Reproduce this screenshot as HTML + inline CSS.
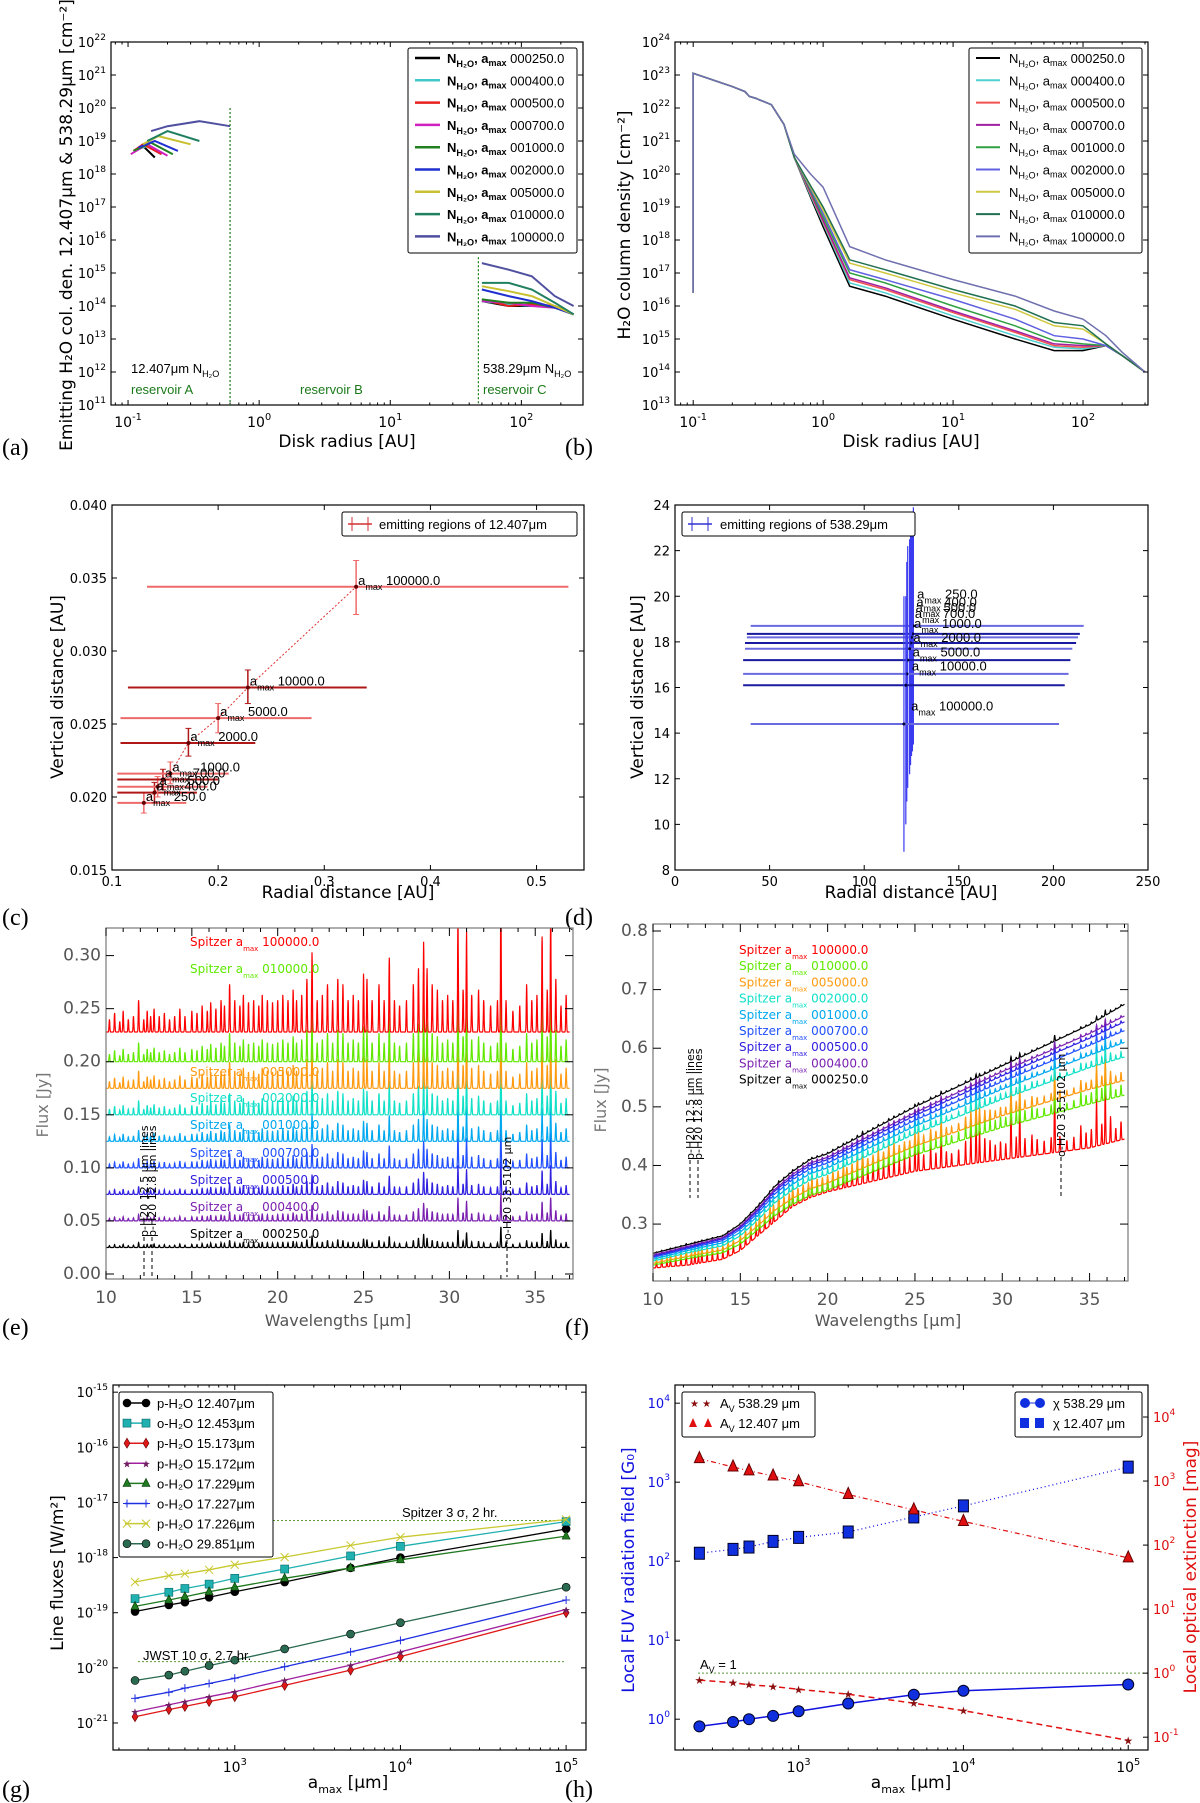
<!DOCTYPE html>
<html><head><meta charset="utf-8"><style>
html,body{margin:0;padding:0;background:#fff}
svg{display:block}
text{font-family:"DejaVu Sans","Liberation Sans",sans-serif}
.t{font-family:"Liberation Sans","DejaVu Sans",sans-serif;font-size:13px}
.pl{font-family:"Liberation Serif",serif;font-size:24px}
</style></head><body>
<svg id="fig" width="1200" height="1803" viewBox="0 0 1200 1803" xmlns="http://www.w3.org/2000/svg"></svg>
<script>
// ---------- DATA ----------
const amaxLabels=['000250.0','000400.0','000500.0','000700.0','001000.0','002000.0','005000.0','010000.0','100000.0'];
const aInnerR=[[0.11,0.13,0.16],[0.11,0.14,0.18],[0.11,0.13,0.18],[0.105,0.14,0.2],[0.11,0.15,0.22],[0.12,0.16,0.24],[0.13,0.17,0.3],[0.14,0.2,0.35],[0.15,0.2,0.35,0.6]];
const aInnerN=[[18.7,18.85,18.5],[18.7,18.85,18.6],[18.7,18.9,18.6],[18.6,18.9,18.55],[18.7,18.95,18.6],[18.8,19.0,18.7],[18.9,19.15,18.9],[19.0,19.3,19.0],[19.3,19.45,19.6,19.45]];
const aOuterR=[50,80,120,180,250];
const aOuterN=[[14.15,14.0,14.0,14.0,13.75],[14.15,14.05,14.0,14.0,13.75],[14.2,14.0,14.05,14.0,13.75],[14.15,14.1,14.0,13.95,13.75],[14.2,14.1,14.1,13.95,13.75],[14.5,14.3,14.15,13.95,13.75],[14.6,14.45,14.3,14.0,13.75],[14.7,14.7,14.5,14.1,13.75],[15.3,15.1,14.9,14.3,14.0]];
const bPreR=[0.1,0.1,0.2,0.25,0.27,0.3,0.4,0.5];
const bPreN=[16.4,23.05,22.65,22.5,22.35,22.3,22.1,21.5];
const bR=[0.6,0.8,1.0,1.6,3,10,30,60,100,150,200,300];
const bN=[[20.5,19.3,18.4,16.6,16.3,15.6,15.0,14.65,14.65,14.8,14.5,14.0],
[20.5,19.35,18.5,16.7,16.4,15.7,15.1,14.75,14.7,14.8,14.5,14.0],
[20.5,19.4,18.55,16.8,16.5,15.8,15.2,14.8,14.75,14.8,14.5,14.0],
[20.5,19.45,18.6,16.85,16.55,15.85,15.25,14.85,14.8,14.8,14.5,14.0],
[20.5,19.5,18.7,17.0,16.7,16.0,15.4,14.95,14.85,14.8,14.5,14.0],
[20.5,19.55,18.8,17.1,16.8,16.2,15.6,15.1,15.0,14.8,14.5,14.0],
[20.5,19.6,18.9,17.3,17.0,16.4,15.9,15.4,15.3,14.85,14.5,14.0],
[20.5,19.65,19.0,17.4,17.1,16.5,16.0,15.5,15.4,14.85,14.5,14.0],
[20.6,20.0,19.6,17.8,17.4,16.8,16.3,15.85,15.6,15.1,14.6,14.0]];
const cLabels=['250.0','400.0','500.0','700.0','1000.0','2000.0','5000.0','10000.0','100000.0'];
const cX=[0.13,0.14,0.143,0.148,0.155,0.172,0.2,0.228,0.33];
const cY=[0.0196,0.0203,0.0207,0.0212,0.0216,0.0237,0.0254,0.0275,0.0344];
const cXlo=[0.105,0.105,0.105,0.105,0.105,0.108,0.108,0.115,0.133];
const cXhi=[0.17,0.18,0.19,0.2,0.21,0.235,0.288,0.34,0.53];
const cYlo=[0.0189,0.0196,0.02,0.0205,0.0209,0.0228,0.0244,0.0264,0.0325];
const cYhi=[0.0203,0.021,0.0214,0.0219,0.0224,0.0247,0.0264,0.0287,0.0362];
const dLabels=['250.0','400.0','500.0','700.0','1000.0','2000.0','5000.0','10000.0','100000.0'];
const dX=[126,125.5,125,124.5,124,123,122.5,122,121];
const dY=[18.7,18.35,18.2,17.95,17.7,17.2,16.6,16.1,14.4];
const dXlo=[40,38,38,37,37,36,36,36,40];
const dXhi=[216,214,213,212,210,209,208,206,203];
const dYlo=[13.5,13.2,13.0,12.6,12.2,11.6,11.0,10.0,8.8];
const dYhi=[23.9,23.5,23.0,22.8,22.5,22.2,21.5,20.0,20.0];
const dLabelY=[19.9,19.55,19.3,19.05,18.6,18.0,17.35,16.75,15.0];
const lineList=[[10.2,.012],[10.5,.018],[10.8,.01],[11.0,.02],[11.3,.012],[11.6,.015],[11.9,.03],[12.2,.012],[12.4,.02],[12.6,.015],[12.8,.022],[13.1,.015],[13.4,.018],[13.7,.012],[14.0,.015],[14.3,.022],[14.6,.015],[15.0,.02],[15.3,.018],[15.6,.025],[15.9,.02],[16.1,.028],[16.4,.022],[16.7,.03],[16.9,.025],[17.2,.045],[17.5,.03],[17.8,.025],[18.0,.035],[18.3,.028],[18.6,.03],[18.9,.025],[19.1,.035],[19.4,.03],[19.7,.028],[20.0,.03],[20.3,.035],[20.6,.03],[20.9,.04],[21.1,.03],[21.4,.035],[21.7,.05],[22.0,.075],[22.3,.03],[22.6,.035],[22.9,.045],[23.2,.03],[23.5,.05],[23.8,.045],[24.1,.03],[24.4,.035],[24.7,.03],[25.0,.055],[25.2,.05],[25.5,.03],[25.9,.045],[26.2,.03],[26.5,.07],[26.8,.03],[27.1,.025],[27.5,.03],[27.9,.045],[28.2,.06],[28.5,.085],[28.7,.06],[29.0,.045],[29.3,.04],[29.6,.03],[29.9,.035],[30.2,.03],[30.5,.11],[30.8,.04],[31.0,.095],[31.3,.035],[31.7,.04],[32.0,.03],[32.4,.025],[32.8,.03],[33.0,.13],[33.3,.03],[33.7,.02],[34.1,.025],[34.5,.045],[34.8,.03],[35.1,.035],[35.4,.09],[35.7,.04],[35.9,.11],[36.2,.05],[36.5,.025],[36.8,.035]];
const eOffset=[0.025,0.05,0.075,0.1,0.125,0.15,0.175,0.2,0.228];
const eLineScale=[0.15,0.2,0.25,0.3,0.35,0.45,0.55,0.6,1.0];
const fContWl=[10,12,14,15,16,17,18,19,20,25,30,35,37];
const fCont=[[0.25,0.265,0.28,0.3,0.33,0.365,0.39,0.41,0.42,0.5,0.57,0.64,0.675],
[0.247,0.262,0.277,0.296,0.326,0.36,0.385,0.404,0.414,0.49,0.56,0.625,0.655],
[0.245,0.26,0.275,0.294,0.323,0.357,0.381,0.4,0.41,0.485,0.553,0.617,0.645],
[0.243,0.258,0.272,0.291,0.319,0.352,0.376,0.394,0.404,0.477,0.543,0.605,0.63],
[0.24,0.255,0.268,0.286,0.314,0.345,0.368,0.386,0.396,0.467,0.53,0.588,0.61],
[0.237,0.251,0.263,0.28,0.307,0.337,0.358,0.375,0.385,0.454,0.513,0.567,0.585],
[0.233,0.245,0.256,0.272,0.297,0.324,0.344,0.36,0.37,0.433,0.485,0.53,0.545],
[0.23,0.241,0.251,0.266,0.29,0.315,0.334,0.349,0.358,0.418,0.465,0.505,0.52],
[0.225,0.23,0.24,0.255,0.28,0.305,0.33,0.345,0.355,0.39,0.41,0.43,0.445]];
const fLineScale=[0.08,0.1,0.12,0.15,0.2,0.3,0.45,0.55,0.9];
const specColors=['#000000','#7a20b0','#3020e0','#2050ff','#00a8f0','#10e0c8','#ff9a10','#60e800','#ff0000'];
const gX=[250,400,500,700,1000,2000,5000,10000,100000];
const gNames=['p-H2O 12.407','o-H2O 12.453','p-H2O 15.173','p-H2O 15.172','o-H2O 17.229','o-H2O 17.227','p-H2O 17.226','o-H2O 29.851'];
const gFlux=[
[1.05e-19,1.38e-19,1.55e-19,1.9e-19,2.4e-19,3.6e-19,6.5e-19,1.0e-18,3.3e-18],
[1.8e-19,2.35e-19,2.75e-19,3.3e-19,4.2e-19,6.2e-19,1.07e-18,1.6e-18,4.5e-18],
[1.3e-21,1.75e-21,2.0e-21,2.45e-21,3.0e-21,4.8e-21,9.1e-21,1.6e-20,1.0e-19],
[1.6e-21,2.15e-21,2.45e-21,3.0e-21,3.7e-21,6.0e-21,1.12e-20,1.95e-20,1.15e-19],
[1.3e-19,1.7e-19,1.95e-19,2.4e-19,2.9e-19,4.2e-19,6.5e-19,9.1e-19,2.45e-18],
[2.8e-21,3.6e-21,4.3e-21,5.2e-21,6.5e-21,1.05e-20,1.95e-20,3.15e-20,1.7e-19],
[3.6e-19,4.7e-19,5.1e-19,6.0e-19,7.4e-19,1.02e-18,1.66e-18,2.34e-18,4.9e-18],
[5.9e-21,7.4e-21,8.7e-21,1.1e-20,1.38e-20,2.2e-20,4.1e-20,6.6e-20,2.9e-19]];
const gSpitzer=4.7e-18, gJWST=1.3e-20;
const hX=[250,400,500,700,1000,2000,5000,10000,100000];
const hChi538=[0.81,0.92,1.0,1.1,1.26,1.58,2.04,2.29,2.75];
const hChi12=[126,141,151,178,200,234,363,501,1550];
const hAv12=[2240,1660,1445,1200,977,617,355,234,63];
const hAv538=[0.78,0.71,0.66,0.62,0.56,0.47,0.34,0.26,0.089];
const hAvOne=1;

// ---------- HELPERS ----------
const NS='http://www.w3.org/2000/svg';
const svg=document.getElementById('fig');
function mk(tag,attrs,name,parent){
  const el=document.createElementNS(NS,tag);
  for(const k in attrs) el.setAttribute(k,attrs[k]);
  
  
  (parent||svg).appendChild(el);return el;}
function txt(x,y,s,attrs,name,parent){const t=mk('text',Object.assign({x:x,y:y},attrs||{}),name,parent);t.textContent=s;return t;}
function sup(x,y,base,ex,attrs,name,parent){const t=mk('text',Object.assign({x:x,y:y},attrs||{}),name,parent);
  const a=document.createElementNS(NS,'tspan');a.textContent=base;t.appendChild(a);
  const b=document.createElementNS(NS,'tspan');b.setAttribute('dy','-7');b.setAttribute('font-size','0.7em');b.textContent=ex;t.appendChild(b);return t;}
function sub(t,base,s){const a=document.createElementNS(NS,'tspan');a.textContent=base;t.appendChild(a);
  const b=document.createElementNS(NS,'tspan');b.setAttribute('dy','4');b.setAttribute('font-size','0.7em');b.textContent=s;t.appendChild(b);
  const c=document.createElementNS(NS,'tspan');c.setAttribute('dy','-4');c.textContent='';t.appendChild(c);return c;}
function axes(c){
  const g=mk('g',{},c.name);
  const lx=v=>c.xlog?Math.log10(v):v, ly=v=>c.ylog?Math.log10(v):v;
  const X=v=>c.L+(lx(v)-c.xmin)/(c.xmax-c.xmin)*(c.R-c.L);
  const Y=v=>c.B-(ly(v)-c.ymin)/(c.ymax-c.ymin)*(c.B-c.T);
  const clip=mk('clipPath',{id:c.name+'-clip'},c.name+'-clip',g);
  mk('rect',{x:c.L,y:c.T,width:c.R-c.L,height:c.B-c.T},'clip-rect',clip);
  const plot=mk('g',{'clip-path':'url(#'+c.name+'-clip)'},c.name+'-plot',g);
  mk('rect',{x:c.L,y:c.T,width:c.R-c.L,height:c.B-c.T,fill:'none',stroke:c.frame||'#000','stroke-width':1.2},c.name+'-frame',g);
  return {X,Y,g,plot,c};
}
function tickLine(ax,x1,y1,x2,y2,name){mk('line',{x1,y1,x2,y2,stroke:'#000','stroke-width':1},name,ax.g);}
function xTicks(ax,vals,opts){const c=ax.c;opts=opts||{};const len=opts.len||5;
  vals.forEach((v,i)=>{const x=ax.X(v);tickLine(ax,x,c.B,x,c.B-len,'x-tick');tickLine(ax,x,c.T,x,c.T+len,'x-tick-top');
    if(opts.labels){ if(opts.log) sup(x,c.B+(opts.dy||20),'10',opts.labels[i],{'text-anchor':'middle','font-size':opts.fs||14,'font-family':'Liberation Sans,sans-serif',fill:opts.fill||'#000'},'x-tick-label',ax.g);
      else txt(x,c.B+(opts.dy||18),opts.labels[i],{'text-anchor':'middle','font-size':opts.fs||14,fill:opts.fill||'#000','font-family':'Liberation Sans,sans-serif'},'x-tick-label',ax.g);}});}
function yTicks(ax,vals,opts){const c=ax.c;opts=opts||{};const len=opts.len||5;
  vals.forEach((v,i)=>{const y=ax.Y(v);if(!opts.rightOnly)tickLine(ax,c.L,y,c.L+len,y,'y-tick');if(!opts.leftOnly)tickLine(ax,c.R,y,c.R-len,y,'y-tick-right');
    if(opts.labels){const xx=opts.right?c.R+5:c.L-5;const an=opts.right?'start':'end';
      if(opts.log) sup(xx,y+5,'10',opts.labels[i],{'text-anchor':an,'font-size':opts.fs||14,fill:opts.fill||'#000','font-family':'Liberation Sans,sans-serif'},'y-tick-label',ax.g);
      else txt(xx,y+5,opts.labels[i],{'text-anchor':an,'font-size':opts.fs||14,fill:opts.fill||'#000','font-family':'Liberation Sans,sans-serif'},'y-tick-label',ax.g);}});}
function minorLog(from,to){const r=[];for(let e=from;e<to;e++)for(let k=2;k<10;k++)r.push(k*Math.pow(10,e));return r;}
function poly(ax,xs,ys,attrs,name){const pts=xs.map((x,i)=>ax.X(x).toFixed(1)+','+ax.Y(ys[i]).toFixed(1)).join(' ');
  return mk('polyline',Object.assign({points:pts,fill:'none'},attrs),name,ax.plot);}
function rotLabel(x,y,s,attrs,name){return txt(x,y,s,Object.assign({transform:'rotate(-90 '+x+' '+y+')','text-anchor':'middle'},attrs),name);}
function panelLetter(x,y,s){txt(x,y,s,{class:'pl'},'panel-label-'+s.replace(/[()]/g,''));}
const pow10=a=>a.map(v=>Math.pow(10,v));
function amaxLabel(x,y,l,name){const t=txt(x,y,'a',{class:'t','font-size':14},name);
  const s=document.createElementNS(NS,'tspan');s.setAttribute('dy','5');s.setAttribute('font-size','9');s.textContent='max';t.appendChild(s);
  const e=document.createElementNS(NS,'tspan');e.setAttribute('dy','-5');e.textContent=' '+l;t.appendChild(e);}

const colA=['#000000','#40c8c8','#e82020','#d020c0','#208020','#2030d0','#c8c030','#208060','#5050a0'];
const colB=['#000000','#50d0d0','#f05050','#a020a0','#30a040','#6060e0','#d0c840','#207050','#7070b0'];
// ---------- PANEL A ----------
(function(){
 const ax=axes({name:'panel-a',L:111,R:583,T:42,B:405,xlog:true,ylog:true,xmin:-1.13,xmax:2.47,ymin:11,ymax:22});
 xTicks(ax,[0.1,1,10,100],{labels:['-1','0','1','2'],log:true,dy:22});
 xTicks(ax,minorLog(-2,3).filter(v=>v>0.075&&v<300),{len:2.5});
 const yv=[];for(let e=11;e<=22;e++)yv.push(Math.pow(10,e));
 yTicks(ax,yv,{labels:yv.map(v=>String(Math.round(Math.log10(v)))),log:true,fs:13});
 aInnerR.forEach((r,i)=>poly(ax,r,pow10(aInnerN[i]),{stroke:colA[i],'stroke-width':2},'inner-curve-'+amaxLabels[i]));
 aOuterN.forEach((n,i)=>poly(ax,aOuterR,pow10(n),{stroke:colA[i],'stroke-width':2},'outer-curve-'+amaxLabels[i]));
 mk('line',{x1:ax.X(0.6),x2:ax.X(0.6),y1:ax.Y(1e20),y2:405,stroke:'#1a7a1a','stroke-dasharray':'2,2','stroke-width':1.2},'reservoir-boundary-ab',ax.g);
 mk('line',{x1:ax.X(47),x2:ax.X(47),y1:ax.Y(3e15),y2:405,stroke:'#1a7a1a','stroke-dasharray':'2,2','stroke-width':1.2},'reservoir-boundary-bc',ax.g);
 [['reservoir A',131],['reservoir B',300],['reservoir C',483]].forEach(r=>txt(r[1],394,r[0],{class:'t',fill:'#1a7a1a','font-size':14},'reservoir-label'));
 let t=txt(131,373,'12.407μm N',{class:'t','font-size':14},'inner-annotation');sub(t,'','H₂O');
 t=txt(483,373,'538.29μm N',{class:'t','font-size':14},'outer-annotation');sub(t,'','H₂O');
 mk('rect',{x:408,y:48,width:169,height:205,fill:'#fff',stroke:'#000','stroke-width':1,rx:2},'legend-a');
 amaxLabels.forEach((l,i)=>{const y=58+i*22.3;mk('line',{x1:415,x2:440,y1:y,y2:y,stroke:colA[i],'stroke-width':2.5},'legend-a-swatch');
   const tt=txt(447,y+5,'N',{class:'t','font-size':14,'font-weight':'bold'},'legend-a-entry');const c=sub(tt,'','H₂O');c.textContent=', a';
   const s=document.createElementNS(NS,'tspan');s.setAttribute('dy','3');s.setAttribute('font-size','9');s.textContent='max';tt.appendChild(s);
   const e=document.createElementNS(NS,'tspan');e.setAttribute('dy','-3');e.setAttribute('font-weight','normal');e.textContent=' '+l;tt.appendChild(e);});
 txt(347,447,'Disk radius [AU]',{'text-anchor':'middle','font-size':17},'x-axis-title-a');
 rotLabel(72,225,'Emitting H₂O col. den. 12.407μm & 538.29μm [cm⁻²]',{'font-size':17},'y-axis-title-a');
 panelLetter(2,455,'(a)');
})();
// ---------- PANEL B ----------
(function(){
 const ax=axes({name:'panel-b',L:675,R:1148,T:42,B:405,xlog:true,ylog:true,xmin:-1.14,xmax:2.5,ymin:13,ymax:24});
 xTicks(ax,[0.1,1,10,100],{labels:['-1','0','1','2'],log:true,dy:22});
 xTicks(ax,minorLog(-2,3).filter(v=>v>0.075&&v<316),{len:2.5});
 const yv=[];for(let e=13;e<=24;e++)yv.push(Math.pow(10,e));
 yTicks(ax,yv,{labels:yv.map(v=>String(Math.round(Math.log10(v)))),log:true,fs:13});
 bN.forEach((n,i)=>poly(ax,bPreR.concat(bR),pow10(bPreN.concat(n)),{stroke:colB[i],'stroke-width':1.5},'column-density-'+amaxLabels[i]));
 mk('rect',{x:969,y:48,width:173,height:205,fill:'#fff',stroke:'#000','stroke-width':1,rx:2},'legend-b');
 amaxLabels.forEach((l,i)=>{const y=58+i*22.3;mk('line',{x1:976,x2:1000,y1:y,y2:y,stroke:colB[i],'stroke-width':2},'legend-b-swatch');
   const tt=txt(1009,y+5,'N',{class:'t','font-size':14},'legend-b-entry');const c=sub(tt,'','H₂O');c.textContent=', a';
   const s=document.createElementNS(NS,'tspan');s.setAttribute('dy','3');s.setAttribute('font-size','9');s.textContent='max';tt.appendChild(s);
   const e=document.createElementNS(NS,'tspan');e.setAttribute('dy','-3');e.textContent=' '+l;tt.appendChild(e);});
 txt(911,447,'Disk radius [AU]',{'text-anchor':'middle','font-size':17},'x-axis-title-b');
 rotLabel(630,225,'H₂O column density [cm⁻²]',{'font-size':17},'y-axis-title-b');
 panelLetter(565,455,'(b)');
})();
// ---------- PANEL C ----------
(function(){
 const ax=axes({name:'panel-c',L:112,R:584,T:505,B:870,xmin:0.1,xmax:0.5447,ymin:0.015,ymax:0.040});
 xTicks(ax,[0.1,0.2,0.3,0.4,0.5],{labels:['0.1','0.2','0.3','0.4','0.5'],dy:16,fs:13});
 yTicks(ax,[0.015,0.02,0.025,0.03,0.035,0.04],{labels:['0.015','0.020','0.025','0.030','0.035','0.040'],fs:13});
 poly(ax,cX,cY,{stroke:'#e03030','stroke-dasharray':'2,2','stroke-width':1},'trend-line-c');
 cX.forEach((x,i)=>{const col=i%2?'#b01818':'#ee6a6a';
  mk('line',{x1:ax.X(cXlo[i]),x2:ax.X(cXhi[i]),y1:ax.Y(cY[i]),y2:ax.Y(cY[i]),stroke:col,'stroke-width':2},'xerr-c',ax.plot);
  mk('line',{x1:ax.X(x),x2:ax.X(x),y1:ax.Y(cYlo[i]),y2:ax.Y(cYhi[i]),stroke:col,'stroke-width':1.5},'yerr-c',ax.plot);
  mk('line',{x1:ax.X(x)-3,x2:ax.X(x)+3,y1:ax.Y(cYlo[i]),y2:ax.Y(cYlo[i]),stroke:col},'yerr-cap-c',ax.plot);
  mk('line',{x1:ax.X(x)-3,x2:ax.X(x)+3,y1:ax.Y(cYhi[i]),y2:ax.Y(cYhi[i]),stroke:col},'yerr-cap-c',ax.plot);
  mk('circle',{cx:ax.X(x),cy:ax.Y(cY[i]),r:2,fill:'#600'},'point-c',ax.plot);
  amaxLabel(ax.X(x)+2,ax.Y(cY[i])-2,cLabels[i],'point-label-c');});
 mk('rect',{x:342,y:512,width:235,height:24,fill:'#fff',stroke:'#000','stroke-width':1,rx:2},'legend-c');
 mk('line',{x1:348,x2:372,y1:524,y2:524,stroke:'#d03030','stroke-width':1.5},'legend-c-swatch');
 mk('line',{x1:352,x2:352,y1:517,y2:531,stroke:'#d03030'},'legend-c-swatch');mk('line',{x1:368,x2:368,y1:517,y2:531,stroke:'#d03030'},'legend-c-swatch');
 txt(379,529,'emitting regions of 12.407μm',{class:'t','font-size':14},'legend-c-text');
 txt(348,898,'Radial distance [AU]',{'text-anchor':'middle','font-size':17},'x-axis-title-c');
 rotLabel(63,687,'Vertical distance [AU]',{'font-size':17},'y-axis-title-c');
 panelLetter(2,925,'(c)');
})();
// ---------- PANEL D ----------
(function(){
 const ax=axes({name:'panel-d',L:675,R:1148,T:505,B:870,xmin:0,xmax:250,ymin:8,ymax:24});
 xTicks(ax,[0,50,100,150,200,250],{labels:['0','50','100','150','200','250'],dy:16,fs:13});
 yTicks(ax,[8,10,12,14,16,18,20,22,24],{labels:['8','10','12','14','16','18','20','22','24'],fs:13});
 dX.forEach((x,i)=>{const col=i%2?'#1a1aa0':'#6a6ae0';
  mk('line',{x1:ax.X(dXlo[i]),x2:ax.X(dXhi[i]),y1:ax.Y(dY[i]),y2:ax.Y(dY[i]),stroke:col,'stroke-width':2},'xerr-d',ax.plot);
  mk('line',{x1:ax.X(x),x2:ax.X(x),y1:ax.Y(dYlo[i]),y2:ax.Y(dYhi[i]),stroke:'#3a3af0','stroke-width':1.2},'yerr-d',ax.plot);
  mk('circle',{cx:ax.X(x),cy:ax.Y(dY[i]),r:1.5,fill:'#003'},'point-d',ax.plot);
  amaxLabel(ax.X(128-i*0.4),ax.Y(dLabelY[i]),dLabels[i],'point-label-d');});
 mk('rect',{x:682,y:512,width:233,height:24,fill:'#fff',stroke:'#000','stroke-width':1,rx:2},'legend-d');
 mk('line',{x1:688,x2:712,y1:524,y2:524,stroke:'#3030d0','stroke-width':1.5},'legend-d-swatch');
 mk('line',{x1:692,x2:692,y1:517,y2:531,stroke:'#3030d0'},'legend-d-swatch');mk('line',{x1:708,x2:708,y1:517,y2:531,stroke:'#3030d0'},'legend-d-swatch');
 txt(720,529,'emitting regions of 538.29μm',{class:'t','font-size':14},'legend-d-text');
 txt(911,898,'Radial distance [AU]',{'text-anchor':'middle','font-size':17},'x-axis-title-d');
 rotLabel(643,687,'Vertical distance [AU]',{'font-size':17},'y-axis-title-d');
 panelLetter(565,925,'(d)');
})();
// ---------- SPECTRA ----------
function spectrum(base,scale){const xs=[],ys=[];for(let w=10;w<=37.001;w+=0.01){let f=base(w);
  for(const L of lineList){const d=(w-L[0])/0.03;if(Math.abs(d)<4)f+=scale*L[1]*Math.exp(-d*d);}xs.push(w);ys.push(f);}return [xs,ys];}
function interp(xa,ya,x){for(let i=0;i<xa.length-1;i++){if(x<=xa[i+1]){const t=(x-xa[i])/(xa[i+1]-xa[i]);return ya[i]+t*(ya[i+1]-ya[i]);}}return ya[ya.length-1];}
function amaxText(x,y,l,col,name){const t=txt(x,y,'Spitzer  a',{fill:col,'font-size':12,'font-family':'DejaVu Sans,sans-serif'},name);
 const s=document.createElementNS(NS,'tspan');s.setAttribute('dy','5');s.setAttribute('font-size','7');s.textContent='max';t.appendChild(s);
 const e=document.createElementNS(NS,'tspan');e.setAttribute('dy','-5');e.textContent='  '+l;t.appendChild(e);}
(function(){
 const ax=axes({name:'panel-e',L:106,R:573,T:928,B:1279,xmin:10,xmax:37.2,ymin:-0.0047,ymax:0.326,frame:'#777'});
 xTicks(ax,[10,15,20,25,30,35],{labels:['10','15','20','25','30','35'],dy:24,fs:17,fill:'#555',len:8});
 xTicks(ax,[11,12,13,14,16,17,18,19,21,22,23,24,26,27,28,29,31,32,33,34,36,37],{len:4});
 yTicks(ax,[0,0.05,0.1,0.15,0.2,0.25,0.3],{labels:['0.00','0.05','0.10','0.15','0.20','0.25','0.30'],fs:17,fill:'#555',len:8});
 eOffset.forEach((o,i)=>{const s=spectrum(w=>o,eLineScale[i]);poly(ax,s[0],s[1],{stroke:specColors[i],'stroke-width':1.2},'spectrum-e-'+amaxLabels[i]);});
 const ly=[1238,1211,1184,1157,1129,1102,1076,973,946];
 amaxLabels.forEach((l,i)=>amaxText(190,ly[i],l,specColors[i],'spectrum-e-label'));
 mk('line',{x1:144,x2:144,y1:1237,y2:1277,stroke:'#000','stroke-dasharray':'4,3'},'arrow-e-12');
 mk('line',{x1:152,x2:152,y1:1237,y2:1277,stroke:'#000','stroke-dasharray':'4,3'},'arrow-e-12b');
 txt(0,0,'p-H20 12.5 μm lines',{transform:'translate(148 1237) rotate(-90)','font-size':11},'annotation-e-12');
 txt(0,0,'p-H20 12.8 μm lines',{transform:'translate(156 1237) rotate(-90)','font-size':11},'annotation-e-12b');
 mk('line',{x1:507,x2:507,y1:1240,y2:1277,stroke:'#000','stroke-dasharray':'4,3'},'arrow-e-33');
 txt(0,0,'o-H20 33.5102 μm',{transform:'translate(511 1240) rotate(-90)','font-size':11},'annotation-e-33');
 txt(338,1326,'Wavelengths [μm]',{'text-anchor':'middle','font-size':16,fill:'#555'},'x-axis-title-e');
 rotLabel(48,1105,'Flux [Jy]',{'font-size':16,fill:'#777'},'y-axis-title-e');
 panelLetter(2,1335,'(e)');
})();
(function(){
 const ax=axes({name:'panel-f',L:653,R:1128,T:924,B:1281,xmin:10,xmax:37.2,ymin:0.3-(1281-1224)/587,ymax:0.8+(931-924)/587,frame:'#777'});
 xTicks(ax,[10,15,20,25,30,35],{labels:['10','15','20','25','30','35'],dy:24,fs:17,fill:'#555',len:8});
 xTicks(ax,[11,12,13,14,16,17,18,19,21,22,23,24,26,27,28,29,31,32,33,34,36,37],{len:4});
 yTicks(ax,[0.3,0.4,0.5,0.6,0.7,0.8],{labels:['0.3','0.4','0.5','0.6','0.7','0.8'],fs:17,fill:'#555',len:8});
 for(let i=fCont.length-1;i>=0;i--){const s=spectrum(w=>interp(fContWl,fCont[i],w),fLineScale[i]);poly(ax,s[0],s[1],{stroke:specColors[i],'stroke-width':1.2},'spectrum-f-'+amaxLabels[i]);}
 [8,7,6,5,4,3,2,1,0].forEach((i,k)=>amaxText(739,954+k*16.2,amaxLabels[i],specColors[i],'spectrum-f-label'));
 mk('line',{x1:690,x2:690,y1:1160,y2:1198,stroke:'#000','stroke-dasharray':'4,3'},'arrow-f-12');
 mk('line',{x1:698,x2:698,y1:1160,y2:1198,stroke:'#000','stroke-dasharray':'4,3'},'arrow-f-12b');
 txt(0,0,'p-H20 12.5 μm lines',{transform:'translate(694 1160) rotate(-90)','font-size':11},'annotation-f-12');
 txt(0,0,'p-H20 12.8 μm lines',{transform:'translate(702 1160) rotate(-90)','font-size':11},'annotation-f-12b');
 mk('line',{x1:1061,x2:1061,y1:1157,y2:1198,stroke:'#000','stroke-dasharray':'4,3'},'arrow-f-33');
 txt(0,0,'o-H20 33.5102 μm',{transform:'translate(1065 1157) rotate(-90)','font-size':11},'annotation-f-33');
 txt(888,1326,'Wavelengths [μm]',{'text-anchor':'middle','font-size':16,fill:'#555'},'x-axis-title-f');
 rotLabel(606,1100,'Flux [Jy]',{'font-size':16,fill:'#777'},'y-axis-title-f');
 panelLetter(565,1335,'(f)');
})();
// ---------- PANEL G ----------
(function(){
 const ax=axes({name:'panel-g',L:113,R:586,T:1385,B:1750,xlog:true,ylog:true,xmin:2.265,xmax:5.12,ymin:-21.49,ymax:-14.87});
 xTicks(ax,[1e3,1e4,1e5],{labels:['3','4','5'],log:true,dy:22});
 xTicks(ax,minorLog(2,5).filter(v=>v>185),{len:2.5});
 const yv=[-21,-20,-19,-18,-17,-16,-15];
 yTicks(ax,pow10(yv),{labels:yv.map(String),log:true,fs:13});
 mk('line',{x1:273,x2:566,y1:ax.Y(gSpitzer),y2:ax.Y(gSpitzer),stroke:'#5a9a3a','stroke-dasharray':'2,2'},'spitzer-limit',ax.plot);
 mk('line',{x1:138,x2:566,y1:ax.Y(gJWST),y2:ax.Y(gJWST),stroke:'#5a9a3a','stroke-dasharray':'2,2'},'jwst-limit',ax.plot);
 txt(402,1517,'Spitzer 3 σ, 2 hr.',{class:'t','font-size':14},'spitzer-label');
 txt(143,1660,'JWST 10 σ, 2.7 hr.',{class:'t','font-size':14},'jwst-label');
 const col=['#000','#20b0b0','#e01818','#a020a0','#207a20','#2030e0','#c8c830','#2a6a50'];
 const mark=['o','s','d','*','^','+','x','o'];
 function marker(x,y,m,c,name,par){
  if(m==='o')mk('circle',{cx:x,cy:y,r:4,fill:c,stroke:'#000','stroke-width':0.6},name,par);
  else if(m==='s')mk('rect',{x:x-4,y:y-4,width:8,height:8,fill:c,stroke:'#066','stroke-width':0.6},name,par);
  else if(m==='d')mk('polygon',{points:`${x},${y-5} ${x+3},${y} ${x},${y+5} ${x-3},${y}`,fill:c,stroke:'#600','stroke-width':0.6},name,par);
  else if(m==='*')txt(x,y+4,'★',{'text-anchor':'middle','font-size':10,fill:'#702060'},name,par);
  else if(m==='^')mk('polygon',{points:`${x},${y-5} ${x+4},${y+3} ${x-4},${y+3}`,fill:c,stroke:'#030','stroke-width':0.6},name,par);
  else if(m==='+'){mk('line',{x1:x-4,x2:x+4,y1:y,y2:y,stroke:c},name,par);mk('line',{x1:x,x2:x,y1:y-4,y2:y+4,stroke:c},name,par);}
  else if(m==='x'){mk('line',{x1:x-4,x2:x+4,y1:y-4,y2:y+4,stroke:c},name,par);mk('line',{x1:x-4,x2:x+4,y1:y+4,y2:y-4,stroke:c},name,par);}}
 gFlux.forEach((f,i)=>{poly(ax,gX,f,{stroke:col[i],'stroke-width':1.3},'flux-line-'+i);
  gX.forEach((x,j)=>marker(ax.X(x),ax.Y(f[j]),mark[i],col[i],'flux-marker',ax.plot));});
 mk('rect',{x:119,y:1392,width:154,height:165,fill:'#fff',stroke:'#000','stroke-width':1,rx:2},'legend-g');
 gNames.forEach((n,i)=>{const y=1403+i*20.1;mk('line',{x1:125,x2:148,y1:y,y2:y,stroke:col[i],'stroke-width':1.5},'legend-g-swatch');
  marker(127,y,mark[i],col[i],'legend-g-marker');marker(146,y,mark[i],col[i],'legend-g-marker');
  txt(157,y+5,n.replace('H2O','H₂O')+'μm',{class:'t','font-size':14},'legend-g-entry');});
 const t=txt(348,1788,'a',{'text-anchor':'middle','font-size':17},'x-axis-title-g');
 const s=document.createElementNS(NS,'tspan');s.setAttribute('dy','5');s.setAttribute('font-size','11');s.textContent='max';t.appendChild(s);
 const e=document.createElementNS(NS,'tspan');e.setAttribute('dy','-5');e.textContent=' [μm]';t.appendChild(e);
 rotLabel(63,1573,'Line fluxes [W/m²]',{'font-size':17},'y-axis-title-g');
 panelLetter(2,1797,'(g)');
})();
// ---------- PANEL H ----------
(function(){
 const ax=axes({name:'panel-h',L:675,R:1148,T:1385,B:1750,xlog:true,ylog:true,xmin:2.25,xmax:5.12,ymin:-0.39,ymax:4.23});
 const axR={X:ax.X,Y:v=>1750-(Math.log10(v)+1.2)/(5.7)*365,g:ax.g,plot:ax.plot,c:ax.c};
 xTicks(ax,[1e3,1e4,1e5],{labels:['3','4','5'],log:true,dy:22});
 xTicks(ax,minorLog(2,5).filter(v=>v>180),{len:2.5});
 yTicks(ax,pow10([0,1,2,3,4]),{labels:['0','1','2','3','4'],log:true,fs:13,fill:'#1010e0',leftOnly:true});
 yTicks(axR,pow10([-1,0,1,2,3,4]),{labels:['-1','0','1','2','3','4'],log:true,fs:13,fill:'#e01010',right:true,rightOnly:true});
 mk('line',{x1:698,x2:1148,y1:axR.Y(hAvOne),y2:axR.Y(hAvOne),stroke:'#5a9a3a','stroke-dasharray':'2,2'},'av-one-line',ax.plot);
 const tA=txt(700,1669,'A',{class:'t','font-size':13},'av-one-label');
 const sA=document.createElementNS(NS,'tspan');sA.setAttribute('dy','4');sA.setAttribute('font-size','9');sA.textContent='V';tA.appendChild(sA);
 const eA=document.createElementNS(NS,'tspan');eA.setAttribute('dy','-4');eA.textContent=' = 1';tA.appendChild(eA);
 poly(axR,hX,hAv12,{stroke:'#e01010','stroke-dasharray':'5,3,1,3','stroke-width':1.2},'av-12-line');
 poly(axR,hX,hAv538,{stroke:'#e01010','stroke-dasharray':'6,4','stroke-width':1.5},'av-538-line');
 poly(ax,hX,hChi12,{stroke:'#1010e0','stroke-dasharray':'1,3','stroke-width':1.3},'chi-12-line');
 poly(ax,hX,hChi538,{stroke:'#1010e0','stroke-width':1.5},'chi-538-line');
 hX.forEach((x,j)=>{
  mk('rect',{x:ax.X(x)-5,y:ax.Y(hChi12[j])-6,width:10,height:12,fill:'#1030e0',stroke:'#002'},'chi-12-marker',ax.plot);
  mk('circle',{cx:ax.X(x),cy:ax.Y(hChi538[j]),r:5.5,fill:'#1030e0',stroke:'#002'},'chi-538-marker',ax.plot);
  const X=ax.X(x),Y=axR.Y(hAv12[j]);mk('polygon',{points:`${X},${Y-7} ${X+5},${Y+4} ${X-5},${Y+4}`,fill:'#e01010',stroke:'#600'},'av-12-marker',ax.plot);
  txt(X,axR.Y(hAv538[j])+4,'★',{'text-anchor':'middle','font-size':11,fill:'#8a1010'},'av-538-marker',ax.plot);});
 mk('rect',{x:682,y:1392,width:133,height:45,fill:'#fff',stroke:'#000','stroke-width':1,rx:2},'legend-h-left');
 txt(690,1407,'★ ★',{'font-size':10,fill:'#8a1010'},'legend-h-star');
 mk('polygon',{points:'693,1418 697,1427 689,1427',fill:'#e01010'},'legend-h-tri');mk('polygon',{points:'708,1418 712,1427 704,1427',fill:'#e01010'},'legend-h-tri');
 [['538.29',1408],['12.407',1428]].forEach(a=>{const t=txt(720,a[1],'A',{class:'t','font-size':13},'legend-h-av');
  const s=document.createElementNS(NS,'tspan');s.setAttribute('dy','4');s.setAttribute('font-size','9');s.textContent='V';t.appendChild(s);
  const e=document.createElementNS(NS,'tspan');e.setAttribute('dy','-4');e.textContent=' '+a[0]+' μm';t.appendChild(e);});
 mk('rect',{x:1015,y:1392,width:127,height:45,fill:'#fff',stroke:'#000','stroke-width':1,rx:2},'legend-h-right');
 mk('circle',{cx:1025,cy:1403,r:5,fill:'#1030e0'},'legend-h-circle');mk('circle',{cx:1040,cy:1403,r:5,fill:'#1030e0'},'legend-h-circle');
 mk('line',{x1:1025,x2:1040,y1:1403,y2:1403,stroke:'#1030e0'},'legend-h-circle-line');
 mk('rect',{x:1020,y:1418,width:9,height:10,fill:'#1030e0'},'legend-h-square');mk('rect',{x:1035,y:1418,width:9,height:10,fill:'#1030e0'},'legend-h-square');
 txt(1053,1408,'χ 538.29 μm',{class:'t','font-size':13},'legend-h-chi538');
 txt(1053,1428,'χ 12.407 μm',{class:'t','font-size':13},'legend-h-chi12');
 const t=txt(911,1788,'a',{'text-anchor':'middle','font-size':17},'x-axis-title-h');
 const s=document.createElementNS(NS,'tspan');s.setAttribute('dy','5');s.setAttribute('font-size','11');s.textContent='max';t.appendChild(s);
 const e=document.createElementNS(NS,'tspan');e.setAttribute('dy','-5');e.textContent=' [μm]';t.appendChild(e);
 rotLabel(634,1570,'Local FUV radiation field [G₀]',{'font-size':17,fill:'#1010e0'},'y-axis-title-h-left');
 rotLabel(1196,1567,'Local optical extinction [mag]',{'font-size':17,fill:'#e01010'},'y-axis-title-h-right');
 panelLetter(565,1797,'(h)');
})();
</script>
</body></html>
